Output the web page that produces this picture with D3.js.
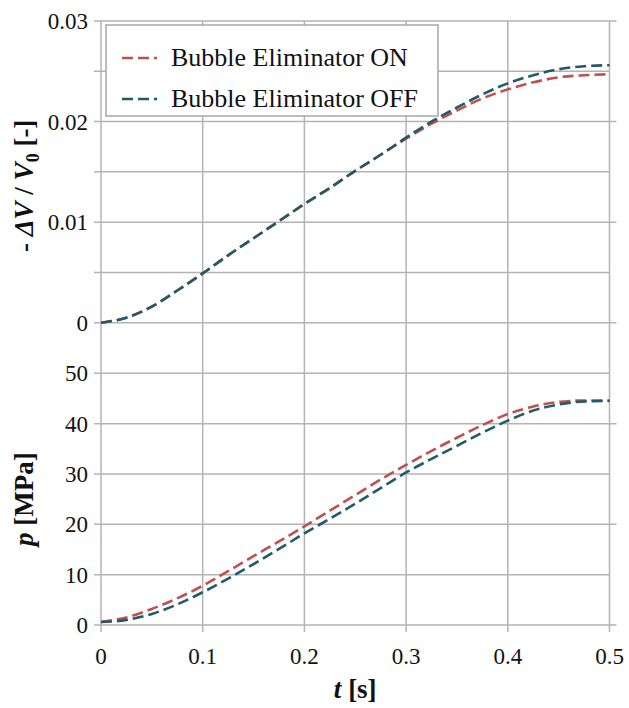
<!DOCTYPE html>
<html lang="en">
<head>
<meta charset="UTF-8">
<title>Bubble Eliminator</title>
<script src="https://d3js.org/d3.v7.min.js"></script>
<style>
  body { margin: 0; background: #fff; }
  .grid line { stroke: #b3b3b3; stroke-width: 1.5; }
  .tick-label { font-size: 23px; fill: #111; }
  .title { font-size: 27px; font-weight: bold; fill: #111; }
  .legend-text { font-size: 26px; fill: #111; }
</style>
</head>
<body>
<svg id="chart" width="629" height="708" font-family="'Liberation Serif', 'DejaVu Serif', 'Times New Roman', Times, serif"></svg>
<script>
// time axis [s]
const t = [0, 0.025, 0.05, 0.075, 0.1, 0.125, 0.15, 0.175, 0.2, 0.225, 0.25,
           0.275, 0.3, 0.325, 0.35, 0.375, 0.4, 0.425, 0.45, 0.475, 0.5];

// -dV/V0 [-]
const dvOn  = [0, 0.0005, 0.0016, 0.0032, 0.0049, 0.0067, 0.0084, 0.0101, 0.0118, 0.0134, 0.0151,
               0.0167, 0.0183, 0.0198, 0.0211, 0.0223, 0.0232, 0.0239, 0.0244, 0.0246, 0.0247];
const dvOff = [0, 0.0005, 0.0016, 0.0032, 0.0049, 0.0067, 0.0084, 0.0101, 0.0118, 0.0134, 0.0151,
               0.0167, 0.0184, 0.0200, 0.0214, 0.0227, 0.0238, 0.0246, 0.0252, 0.0255, 0.0256];

// p [MPa]
const pOn  = [0.6, 1.5, 3.2, 5.3, 7.8, 10.7, 13.7, 16.6, 19.6, 22.7, 25.8,
              28.9, 31.8, 34.6, 37.2, 39.7, 41.9, 43.4, 44.3, 44.6, 44.6];
const pOff = [0.6, 1.0, 2.2, 4.1, 6.5, 9.2, 12.1, 15.1, 18.2, 21.1, 24.1,
              27.2, 30.3, 33.0, 35.6, 38.2, 40.6, 42.6, 43.8, 44.4, 44.5];

const seriesNames = ['Bubble Eliminator ON', 'Bubble Eliminator OFF'];
const colors = ['#c0504d', '#215a69'];

const xTicks = [0, 0.1, 0.2, 0.3, 0.4, 0.5];
const topGrid = [0, 0.005, 0.01, 0.015, 0.02, 0.025, 0.03];
const topLabels = [0, 0.01, 0.02, 0.03];
const botGrid = [0, 10, 20, 30, 40, 50];

const svg = d3.select('#chart');

const x = d3.scaleLinear().domain([0, 0.5]).range([101, 609.5]);
const yTop = d3.scaleLinear().domain([0, 0.03]).range([322.7, 21]);
const yBot = d3.scaleLinear().domain([0, 50]).range([625, 373.3]);

const grid = svg.append('g').attr('class', 'grid');

// vertical grid lines + bottom ticks
grid.selectAll('.vg')
  .data(xTicks)
  .join('line')
  .attr('x1', d => x(d)).attr('x2', d => x(d))
  .attr('y1', yTop(0.03)).attr('y2', yBot(0) + 7);

// horizontal grid lines (with left ticks)
grid.selectAll('.hgt')
  .data(topGrid)
  .join('line')
  .attr('x1', x(0) - 7)
  .attr('x2', d => topLabels.includes(d) ? x(0.5) + 7 : x(0.5))
  .attr('y1', d => yTop(d)).attr('y2', d => yTop(d));

grid.selectAll('.hgb')
  .data(botGrid)
  .join('line')
  .attr('x1', x(0) - 7)
  .attr('x2', d => d % 20 === 0 ? x(0.5) + 7 : x(0.5))
  .attr('y1', d => yBot(d)).attr('y2', d => yBot(d));

// tick labels
svg.selectAll('.yl-top')
  .data(topLabels)
  .join('text')
  .attr('class', 'tick-label')
  .attr('x', x(0) - 13)
  .attr('y', d => yTop(d))
  .attr('dy', '0.35em')
  .attr('text-anchor', 'end')
  .text(d => d === 0 ? '0' : d.toFixed(2));

svg.selectAll('.yl-bot')
  .data(botGrid)
  .join('text')
  .attr('class', 'tick-label')
  .attr('x', x(0) - 13)
  .attr('y', d => yBot(d))
  .attr('dy', '0.35em')
  .attr('text-anchor', 'end')
  .text(d => d);

svg.selectAll('.xl')
  .data(xTicks)
  .join('text')
  .attr('class', 'tick-label')
  .attr('x', d => x(d))
  .attr('y', 664)
  .attr('text-anchor', 'middle')
  .text(d => d === 0 ? '0' : d.toFixed(1));

// curves
const lineTop = d3.line().x((d, i) => x(t[i])).y(d => yTop(d)).curve(d3.curveMonotoneX);
const lineBot = d3.line().x((d, i) => x(t[i])).y(d => yBot(d)).curve(d3.curveMonotoneX);

const curves = [
  {v: dvOn, line: lineTop, c: colors[0]},
  {v: dvOff, line: lineTop, c: colors[1]},
  {v: pOn, line: lineBot, c: colors[0]},
  {v: pOff, line: lineBot, c: colors[1]}
];

svg.selectAll('.curve')
  .data(curves)
  .join('path')
  .attr('class', 'curve')
  .attr('d', d => d.line(d.v))
  .attr('fill', 'none')
  .attr('stroke', d => d.c)
  .attr('stroke-width', 2.6)
  .attr('stroke-dasharray', '11,5');

// legend
const legend = svg.append('g');
legend.append('rect')
  .attr('x', 106).attr('y', 25).attr('width', 332).attr('height', 91)
  .attr('fill', '#fff').attr('stroke', '#a6a6a6').attr('stroke-width', 1.5);

const li = legend.selectAll('.li')
  .data(seriesNames)
  .join('g')
  .attr('transform', (d, i) => `translate(0, ${i * 41})`);

li.append('line')
  .attr('x1', 122).attr('x2', 157).attr('y1', 58).attr('y2', 58)
  .attr('stroke', (d, i) => colors[i]).attr('stroke-width', 2.6)
  .attr('stroke-dasharray', '11,5');

li.append('text')
  .attr('class', 'legend-text')
  .attr('x', 171).attr('y', 66)
  .text(d => d);

// axis titles
const yt1 = svg.append('text')
  .attr('class', 'title')
  .attr('transform', `translate(33, ${(yTop(0.03) + yTop(0)) / 2 + 14}) rotate(-90)`)
  .attr('text-anchor', 'middle');
yt1.append('tspan').text('- ');
yt1.append('tspan').attr('font-style', 'italic').text('ΔV');
yt1.append('tspan').text(' / ');
yt1.append('tspan').attr('font-style', 'italic').text('V');
yt1.append('tspan').attr('font-size', '18px').attr('dy', 6).text('0');
yt1.append('tspan').attr('dy', -6).text(' [-]');

const yt2 = svg.append('text')
  .attr('class', 'title')
  .attr('transform', `translate(33, ${(yBot(50) + yBot(0)) / 2}) rotate(-90)`)
  .attr('text-anchor', 'middle');
yt2.append('tspan').attr('font-style', 'italic').text('p');
yt2.append('tspan').text(' [MPa]');

const xt = svg.append('text')
  .attr('class', 'title')
  .attr('x', (x(0) + x(0.5)) / 2)
  .attr('y', 698)
  .attr('text-anchor', 'middle');
xt.append('tspan').attr('font-style', 'italic').text('t');
xt.append('tspan').text(' [s]');
</script>
</body>
</html>
